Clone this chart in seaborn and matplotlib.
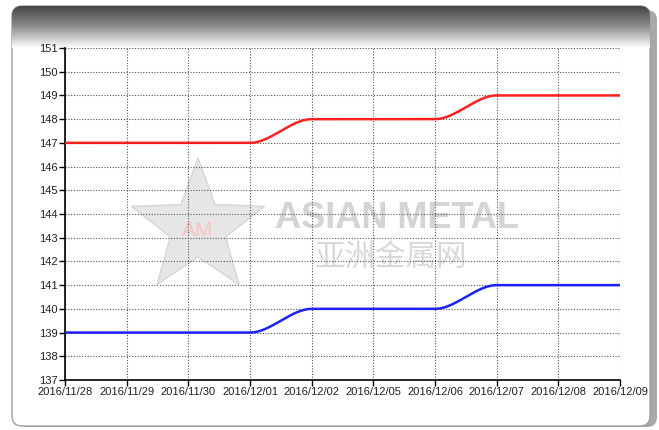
#!/usr/bin/env python3
"""Asian Metal price chart, 2016/11/28 - 2016/12/09."""

import numpy as np
import pandas as pd
import matplotlib
matplotlib.use("Agg")
import matplotlib.pyplot as plt
from matplotlib.patches import FancyBboxPatch, Polygon
import seaborn as sns

# data
dates = ["2016/11/28", "2016/11/29", "2016/11/30", "2016/12/01", "2016/12/02",
         "2016/12/05", "2016/12/06", "2016/12/07", "2016/12/08", "2016/12/09"]
red_price = [147, 147, 147, 147, 148, 148, 148, 149, 149, 149]
blue_price = [139, 139, 139, 139, 140, 140, 140, 141, 141, 141]
y_ticks = list(range(137, 152))


def smooth(values, steps=40):
    """Monotone cubic (PCHIP-style) curve through the points, for drawing."""
    xs, ys = [], []
    for i in range(len(values) - 1):
        t = np.linspace(0, 1, steps, endpoint=False)
        h = 3 * t ** 2 - 2 * t ** 3
        xs.extend(i + t)
        ys.extend(values[i] + (values[i + 1] - values[i]) * h)
    xs.append(len(values) - 1)
    ys.append(values[-1])
    return pd.DataFrame({"x": xs, "y": ys})


sns.set_theme(style="white")
plt.rcParams["font.family"] = ["Liberation Sans", "Noto Sans CJK SC", "DejaVu Sans"]

W, H = 659, 430
fig = plt.figure(figsize=(W / 100, H / 100), dpi=100)

# background frame in pixel coordinates
bg = fig.add_axes([0, 0, 1, 1], zorder=0)
bg.set_xlim(0, W)
bg.set_ylim(H, 0)
bg.axis("off")

shadow = FancyBboxPatch((17, 10), 640, 417, boxstyle="round,pad=0,rounding_size=10",
                        fc="#a8a8a8", ec="none")
bg.add_patch(shadow)
frame = FancyBboxPatch((12, 6), 638, 420, boxstyle="round,pad=0,rounding_size=10",
                       fc="white", ec="#a0a0a0", lw=1)
bg.add_patch(frame)
grad = np.linspace(0, 1, 256).reshape(-1, 1)
img = bg.imshow(grad, cmap=matplotlib.colors.LinearSegmentedColormap.from_list(
    "hdr", ["#444444", "#8f8f8f", "#ffffff"]), extent=(12, 650, 48, 6),
    aspect="auto", zorder=1)
img.set_clip_path(frame)

# watermark
cx, cy, ro, ri = 198, 228, 70, 29
ang = np.pi / 2 + np.arange(10) * np.pi / 5
rad = np.where(np.arange(10) % 2 == 0, ro, ri)
star = np.column_stack([cx + rad * np.cos(ang), cy - rad * np.sin(ang)])
bg.add_patch(Polygon(star, closed=True, fc="#e6e6e6", ec="#d6d6d6", lw=1, zorder=2))
bg.text(cx, cy + 3, "AM", color="#f4c4c4", fontsize=15, ha="center", va="center", zorder=3)
bg.text(397, 218, "ASIAN METAL", color="#d4d4d4", fontsize=26, fontweight="bold",
        ha="center", va="center", zorder=3)
bg.text(391, 257, "亚洲金属网", color="#d8d8d8", fontsize=22,
        family=["Noto Sans CJK SC"], ha="center", va="center", zorder=3)

# plot area
ax = fig.add_axes([65 / W, 1 - 380 / H, 555 / W, 332 / H], zorder=1)
ax.patch.set_alpha(0)

red = smooth(red_price)
blue = smooth(blue_price)
sns.lineplot(data=red, x="x", y="y", ax=ax, color="#ff2020", lw=1.8, zorder=5)
sns.lineplot(data=blue, x="x", y="y", ax=ax, color="#2020ff", lw=1.8, zorder=5)

ax.set_xlim(0, len(dates) - 1)
ax.set_ylim(137, 151)
ax.set_xticks(range(len(dates)))
ax.set_xticklabels(dates)
ax.set_yticks(y_ticks)
ax.set_xlabel("")
ax.set_ylabel("")
ax.grid(True, color="#555555", linestyle=(0, (1, 1.5)), linewidth=0.8)
for s in ["top", "right"]:
    ax.spines[s].set_visible(False)
for s in ["left", "bottom"]:
    ax.spines[s].set_color("black")
    ax.spines[s].set_linewidth(1.2)
ax.tick_params(axis="both", direction="out", length=4, width=1, color="black",
               labelsize=8, labelcolor="#222222", pad=1, left=True, bottom=True)

fig.savefig("out.png", dpi=100)
